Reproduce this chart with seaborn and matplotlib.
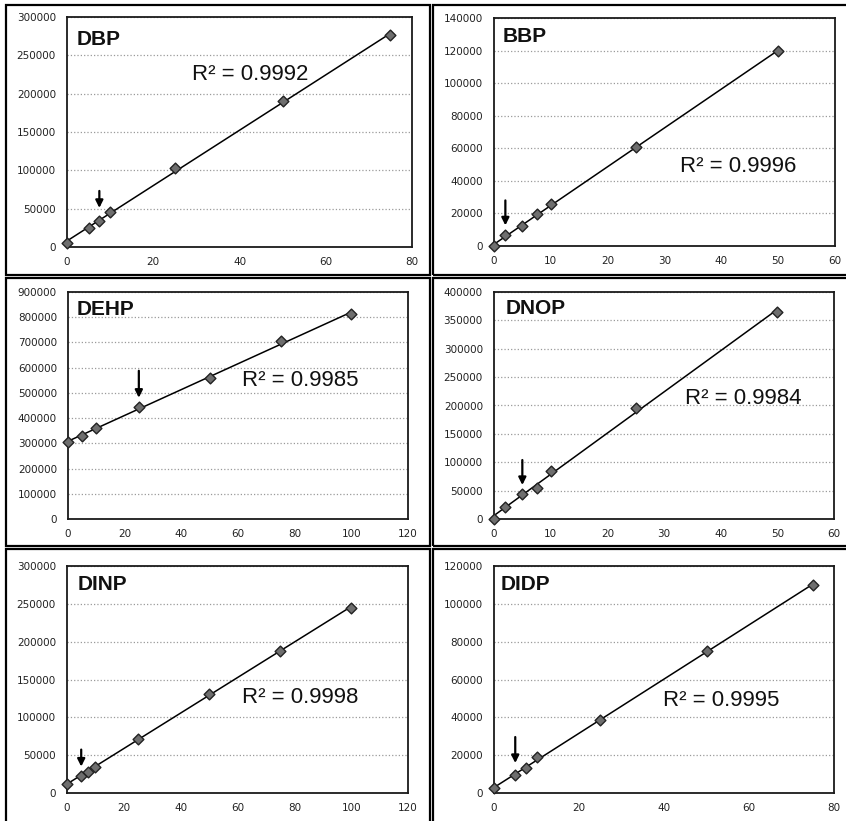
import matplotlib
matplotlib.use("Agg")
import matplotlib.pyplot as plt
from matplotlib.patches import Rectangle
from matplotlib.ticker import MultipleLocator
import seaborn as sns

# ---------------- data ----------------
names = ["DBP", "BBP", "DEHP", "DNOP", "DINP", "DIDP"]
r2_labels = ["R² = 0.9992", "R² = 0.9996", "R² = 0.9985",
             "R² = 0.9984", "R² = 0.9998", "R² = 0.9995"]

dbp_x = [0, 5, 7.5, 10, 25, 50, 75]
dbp_y = [5000, 25000, 34000, 45000, 103000, 190000, 276000]

bbp_x = [0, 2, 5, 7.5, 10, 25, 50]
bbp_y = [0, 6500, 12000, 19500, 26000, 60500, 120000]

dehp_x = [0, 5, 10, 25, 50, 75, 100]
dehp_y = [305000, 330000, 360000, 445000, 558000, 705000, 812000]

dnop_x = [0, 2, 5, 7.5, 10, 25, 50]
dnop_y = [0, 22000, 44000, 55000, 84000, 195000, 365000]

dinp_x = [0, 5, 7.5, 10, 25, 50, 75, 100]
dinp_y = [12000, 23000, 28000, 35000, 72000, 131000, 188000, 245000]

didp_x = [0, 5, 7.5, 10, 25, 50, 75]
didp_y = [2500, 9500, 13000, 19000, 38500, 75000, 110000]

xs = [dbp_x, bbp_x, dehp_x, dnop_x, dinp_x, didp_x]
ys = [dbp_y, bbp_y, dehp_y, dnop_y, dinp_y, didp_y]

# index of the point marked by an arrow
arrow_idx = [2, 1, 3, 2, 1, 1]

# axis ranges / tick steps
x_max = [80, 60, 120, 60, 120, 80]
x_step = [20, 10, 20, 10, 20, 20]
y_max = [300000, 140000, 900000, 400000, 300000, 120000]
y_step = [50000, 20000, 100000, 50000, 50000, 20000]

# ---------------- layout (pixels) ----------------
W, H = 846, 821
DPI = 100
axes_px = [  # left, right, top, bottom
    (67, 412, 17, 247),
    (494, 835, 18, 246),
    (68, 408, 292, 519),
    (494, 834, 292, 519),
    (67, 408, 566, 793),
    (494, 834, 566, 793),
]
title_px = [(77, 30), (503, 27), (77, 300), (506, 299), (78, 575), (501, 575)]
r2_px = [(192, 74), (680, 166), (242, 380), (685, 398), (242, 697), (663, 700)]
arrow_tip_px = [13, 10, 9, 9, 9, 12]
arrow_tail_px = [30, 35, 36, 34, 26, 38]
frames_px = [  # left, top, right, bottom
    (6, 5, 430, 275), (433, 5, 870, 275),
    (6, 278, 430, 546), (433, 278, 870, 546),
    (6, 549, 430, 850), (433, 549, 870, 850),
]

sns.set_theme(style="white")
plt.rcParams["font.family"] = ["DejaVu Sans"]

fig = plt.figure(figsize=(W / DPI, H / DPI), dpi=DPI)
fig.patch.set_facecolor("white")

px2pt = 72.0 / DPI

for (l, t, r, b) in frames_px:
    fig.patches.append(Rectangle((l / W, 1 - b / H), (r - l) / W, (b - t) / H,
                                 transform=fig.transFigure, fill=False,
                                 edgecolor="black", linewidth=1.6, zorder=0))

for i in range(6):
    l, r, t, b = axes_px[i]
    ax = fig.add_axes([l / W, 1 - b / H, (r - l) / W, (b - t) / H])
    ax.set_facecolor("white")
    sns.regplot(x=xs[i], y=ys[i], ax=ax, ci=None, marker="D",
                scatter_kws=dict(s=30, color="#6e6e6e", edgecolors="#222222",
                                 linewidths=1.0, zorder=3, clip_on=False, alpha=1),
                line_kws=dict(color="black", lw=1.1, zorder=2))
    ax.set_xlim(0, x_max[i])
    ax.set_ylim(0, y_max[i])
    ax.xaxis.set_major_locator(MultipleLocator(x_step[i]))
    ax.yaxis.set_major_locator(MultipleLocator(y_step[i]))
    ax.ticklabel_format(style="plain", useOffset=False)
    ax.set_xlabel("")
    ax.set_ylabel("")
    ax.tick_params(axis="both", labelsize=7.5, length=0, colors="#222222")
    ax.tick_params(axis="y", pad=8)
    ax.tick_params(axis="x", pad=7)
    ax.yaxis.grid(True, color="#9a9a9a", linestyle=":", linewidth=0.9)
    ax.xaxis.grid(False)
    ax.set_axisbelow(True)
    for sp in ax.spines.values():
        sp.set_visible(True)
        sp.set_color("#1a1a1a")
        sp.set_linewidth(1.3)

    # arrow above marked point
    k = arrow_idx[i]
    ax.annotate("", xy=(xs[i][k], ys[i][k]),
                xytext=(0, arrow_tail_px[i] * px2pt), textcoords="offset points",
                xycoords="data",
                arrowprops=dict(arrowstyle="-|>", color="black", lw=1.6,
                                mutation_scale=11, shrinkA=0,
                                shrinkB=arrow_tip_px[i] * px2pt),
                annotation_clip=False)

    tx, ty = title_px[i]
    fig.text(tx / W, 1 - ty / H, names[i], fontsize=15, fontweight="bold",
             family=["Liberation Sans", "DejaVu Sans"], va="top", ha="left",
             color="#111111")
    rx, ry = r2_px[i]
    fig.text(rx / W, 1 - ry / H, r2_labels[i], fontsize=16,
             family=["Liberation Sans", "DejaVu Sans"], va="center", ha="left",
             color="#111111")

fig.savefig("out.png", dpi=DPI, facecolor="white")
